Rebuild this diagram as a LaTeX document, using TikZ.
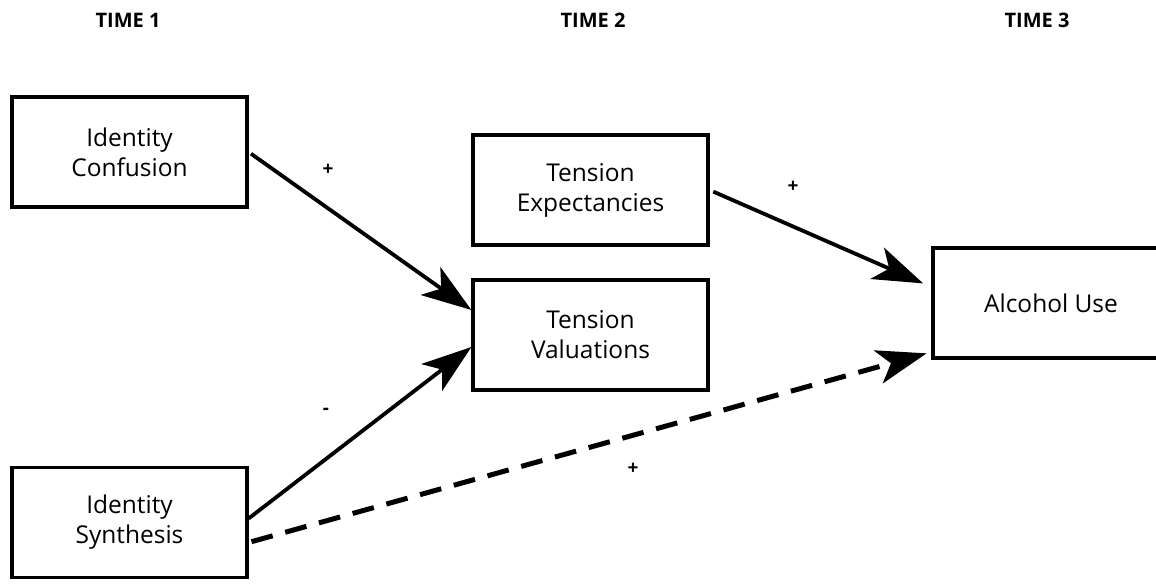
\documentclass[tikz,border=0pt]{standalone}
\usepackage{fontspec}
\setmainfont{Open Sans}
\usetikzlibrary{arrows.meta}
\begin{document}
\begin{tikzpicture}[x=1pt,y=-1pt,
  boxnode/.style={draw,line width=3.2pt,minimum width=235pt,minimum height=110pt,
    align=center,inner sep=0pt,font=\fontsize{24.5}{30}\selectfont},
  timelabel/.style={font=\bfseries\fontsize{20}{24}\selectfont},
  signlabel/.style={font=\bfseries\fontsize{19}{20}\selectfont},
  conn/.style={line width=3.8pt,-{Stealth[length=50pt,width=34pt,inset=13pt]}},
  dconn/.style={conn,line width=5pt,dash pattern=on 22pt off 13pt}]
\useasboundingbox (0,0) rectangle (1156,584);
\node[timelabel] (t1) at (128,20) {TIME 1};
\node[timelabel] (t2) at (593,20) {TIME 2};
\node[timelabel] (t3) at (1037,20) {TIME 3};
\node[boxnode] (ic) at (129.5,152) {Identity\\Confusion};
\node[boxnode] (is) at (129.5,522.5) {Identity\\Synthesis};
\node[boxnode] (te) at (590.5,190) {Tension\\Expectancies};
\node[boxnode] (tv) at (590.5,335) {Tension\\Valuations};
\node[boxnode,minimum width=236pt] (au) at (1051,303) {Alcohol Use};
\draw[conn,shorten <=3pt] (ic.east) -- ([yshift=25pt]tv.west);
\draw[conn] ([yshift=4pt]is.east) -- ([yshift=-12pt]tv.west);
\draw[conn,shorten <=4pt,shorten >=9pt] (te.east) -- ([yshift=16pt]au.west);
\draw[dconn,shorten <=3pt,shorten >=5pt] ([yshift=-20pt]is.east) -- ([yshift=-49pt]au.west);
\node[signlabel] (s1) at (328,170) {+};
\node[signlabel] (s2) at (793,187) {+};
\node[signlabel] (s3) at (326,411) {-};
\node[signlabel] (s4) at (633,469) {+};
\end{tikzpicture}
\end{document}
